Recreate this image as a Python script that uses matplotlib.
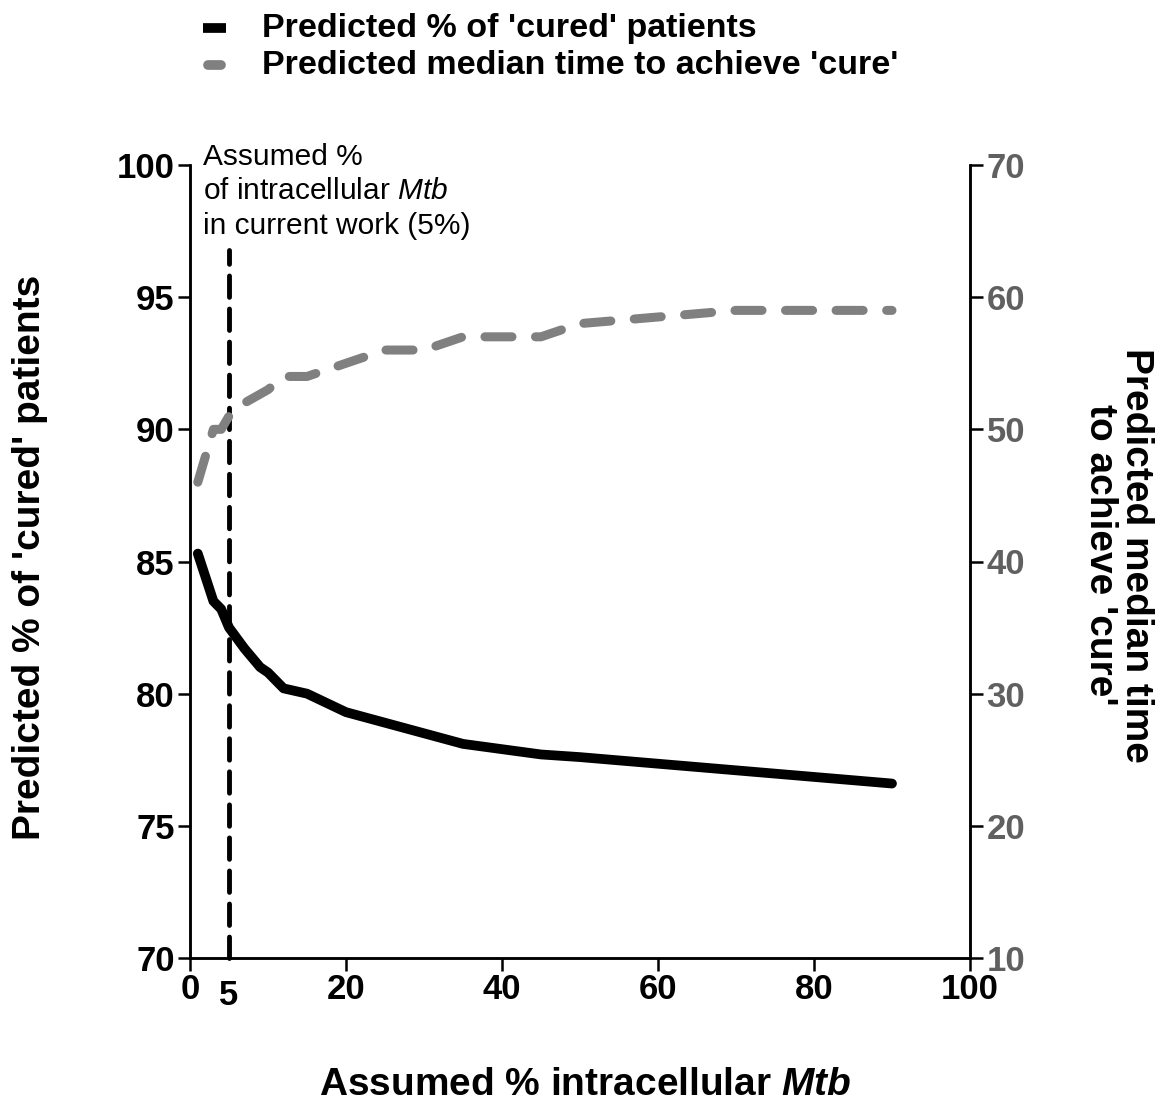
import matplotlib
matplotlib.use("Agg")
import matplotlib.pyplot as plt
from matplotlib.lines import Line2D

# ---- data ----
cured_x = [1, 3, 4, 5, 7, 9, 10, 12, 15, 20, 25, 30, 35, 45, 50, 60, 70, 80, 90]
cured_y = [85.3, 83.5, 83.2, 82.5, 81.7, 81.0, 80.8, 80.2, 80.0, 79.3, 78.9, 78.5, 78.1, 77.7, 77.6, 77.35, 77.1, 76.85, 76.6]

time_x = [1, 3, 4, 5, 7, 10, 12, 15, 20, 25, 30, 35, 45, 50, 60, 70, 80, 90]
time_y = [46, 50, 50, 51, 52, 53, 54, 54, 55, 56, 56, 57, 57, 58, 58.5, 59, 59, 59]

assumed_pct = 5
xticks = [0, 20, 40, 60, 80, 100]
left_ticks = [70, 75, 80, 85, 90, 95, 100]
right_ticks = [10, 20, 30, 40, 50, 60, 70]
legend_labels = ["Predicted % of 'cured' patients",
                 "Predicted median time to achieve 'cure'"]
legend_colors = ['black', '#808080']

plt.rcParams['font.family'] = ['Liberation Sans', 'DejaVu Sans']
plt.rcParams['mathtext.fontset'] = 'custom'
plt.rcParams['mathtext.rm'] = 'Liberation Sans'
plt.rcParams['mathtext.it'] = 'Liberation Sans:italic'
plt.rcParams['mathtext.bf'] = 'Liberation Sans:bold'
plt.rcParams['mathtext.bfit'] = 'Liberation Sans:italic:bold'

W, H = 1163, 1107
fig = plt.figure(figsize=(W/100, H/100), dpi=100)
ax = fig.add_axes([190/W, 1-958/H, 780/W, 793/H])
ax2 = ax.twinx()

ax.set_xlim(0, 100)
ax.set_ylim(70, 100)
ax2.set_ylim(10, 70)

ax.plot(cured_x, cured_y, color=legend_colors[0], lw=7, solid_capstyle='round',
        solid_joinstyle='round', zorder=3)
ax2.plot(time_x, time_y, color=legend_colors[1], lw=6.5, dashes=(3.0, 2.6),
         dash_capstyle='round', zorder=3)

ax.plot([assumed_pct, assumed_pct], [70, 96.8], color='black', lw=3.5,
        dashes=(4.4, 2.4), dash_capstyle='round', zorder=4, clip_on=False)

ax.text(1.7, 100.85, "Assumed %\nof intracellular $\\mathit{Mtb}$\nin current work (5%)",
        fontsize=21.5, va='top', ha='left', linespacing=1.3, clip_on=False)

# spines
for a in (ax, ax2):
    a.spines['top'].set_visible(False)
    for s in ('left', 'right', 'bottom'):
        a.spines[s].set_linewidth(1.8)
        a.spines[s].set_color('black')

ax.set_xticks(xticks)
ax.set_xticklabels([str(t) for t in xticks])
ax.set_xticks([assumed_pct], minor=True)
ax.set_xticklabels([str(assumed_pct)], minor=True)
ax.tick_params(axis='x', which='minor', length=0, pad=15, labelsize=25)
ax.set_yticks(left_ticks)
ax.tick_params(axis='both', which='major', direction='out', length=9, width=1.8,
               labelsize=25, pad=2)
for lab in ax.get_xticklabels() + ax.get_yticklabels() + ax.get_xticklabels(minor=True):
    lab.set_fontweight('bold')

ax2.set_yticks(right_ticks)
ax2.tick_params(axis='y', direction='out', length=9, width=1.8, labelsize=25,
                labelcolor='#606060', pad=3)
for lab in ax2.get_yticklabels():
    lab.set_fontweight('bold')

fig.text(585/W, 1-1085/H, "Assumed % intracellular $\\mathbfit{Mtb}$", fontsize=28,
         fontweight='bold', ha='center', va='center')
fig.text(30/W, 1-557/H, "Predicted % of 'cured' patients", fontsize=28,
         fontweight='bold', rotation=90, ha='center', va='center')
fig.text(1118/W, 1-555/H, "Predicted median time\nto achieve 'cure'", fontsize=28,
         fontweight='bold', rotation=270, ha='center', va='center', linespacing=1.0)

# legend (drawn manually to match the short bar handles)
row_y = [28, 65]
caps = ['butt', 'round']
for lab, col, yy, cap in zip(legend_labels, legend_colors, row_y, caps):
    if cap == 'butt':
        xs = [203/W, 226/W]
    else:
        xs = [208/W, 221/W]
    fig.add_artist(Line2D(xs, [1-yy/H, 1-yy/H], transform=fig.transFigure,
                          color=col, lw=7, solid_capstyle=cap))
    fig.text(262/W, 1-yy/H, lab, fontsize=24.5, fontweight='bold',
             ha='left', va='center')

fig.savefig("out.png", dpi=100)
